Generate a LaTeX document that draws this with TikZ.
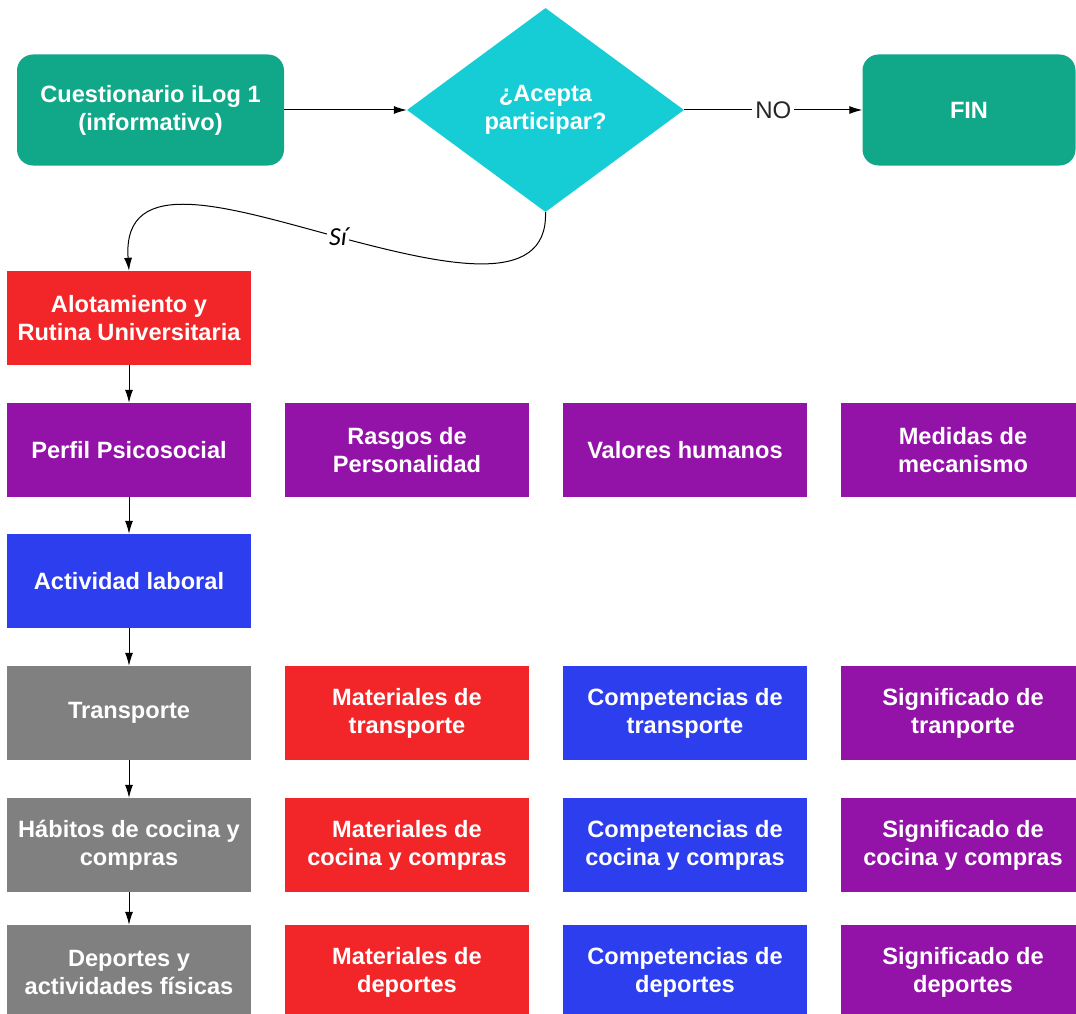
\documentclass[tikz,border=0pt]{standalone}
\usepackage{fontspec}
\setmainfont{Liberation Sans}
\newfontfamily\sifont{Carlito}
\usetikzlibrary{shapes.geometric,arrows.meta}

\definecolor{verde}{RGB}{16,168,137}
\definecolor{cian}{RGB}{22,205,214}
\definecolor{rojo}{RGB}{242,38,40}
\definecolor{morado}{RGB}{147,18,168}
\definecolor{azul}{RGB}{45,62,239}
\definecolor{gris}{RGB}{128,128,128}

\begin{document}
\begin{tikzpicture}[x=1pt,y=-1pt,
    caja/.style={rectangle,minimum width=244pt,minimum height=94pt,inner sep=0pt,
      text=white,align=center,font=\fontsize{23.6}{28}\selectfont\bfseries},
    flecha/.style={draw,line width=1pt,-{Latex[length=13pt,width=8pt]}}]

        \useasboundingbox (0,0) rectangle (1076,1014);

        \begin{scope}[every node/.style={caja}]
          % inicio
          \node[fill=verde,rounded corners=16pt,minimum width=267pt,minimum height=111pt] (1) at (150.5,110) {Cuestionario iLog 1\\(informativo)};
          \node[fill=cian,diamond,minimum width=277pt,minimum height=204pt] (2) at (545.5,110) {¿Acepta\\participar?};
          \node[fill=verde,rounded corners=16pt,minimum width=213pt,minimum height=111pt] (3) at (969,110) {FIN};
          % columna 1
          \node[fill=rojo]   (4) at (129,318) {Alotamiento y\\Rutina Universitaria};
          \node[fill=morado] (5) at (129,450) {Perfil Psicosocial};
          \node[fill=azul]   (6) at (129,581) {Actividad laboral};
          \node[fill=gris]   (7) at (129,713) {Transporte};
          \node[fill=gris]   (8) at (129,845) {Hábitos de cocina y\\compras};
          \node[fill=gris]   (9) at (129,972) {Deportes y\\actividades físicas};
          % resto
          \node[fill=morado] (10) at (407,450) {Rasgos de\\Personalidad};
          \node[fill=morado] (11) at (685,450) {Valores humanos};
          \node[fill=morado] (12) at (963,450) {Medidas de\\mecanismo};
          \node[fill=rojo]   (13) at (407,713) {Materiales de\\transporte};
          \node[fill=azul]   (14) at (685,713) {Competencias de\\transporte};
          \node[fill=morado] (15) at (963,713) {Significado de\\tranporte};
          \node[fill=rojo]   (16) at (407,845) {Materiales de\\cocina y compras};
          \node[fill=azul]   (17) at (685,845) {Competencias de\\cocina y compras};
          \node[fill=morado] (18) at (963,845) {Significado de\\cocina y compras};
          \node[fill=rojo]   (19) at (407,972) {Materiales de\\deportes};
          \node[fill=azul]   (20) at (685,972) {Competencias de\\deportes};
          \node[fill=morado] (21) at (963,972) {Significado de\\deportes};
        \end{scope}

        \begin{scope}[every edge/.style={flecha}]
          \path (1) edge (2);
          \path (2) edge node[fill=white,inner sep=3pt,text=black!85,font=\fontsize{24}{28}\selectfont] {NO} (3);
          \path (4) edge (5);
          \path (5) edge (6);
          \path (6) edge (7);
          \path (7) edge (8);
          \path (8) edge (9);
        \end{scope}

        \draw[flecha] (2.south) .. controls (548,290) and (440,264) .. (338,237)
          node[fill=white,inner sep=2pt,font=\sifont\itshape\fontsize{26}{30}\selectfont] {Sí}
          .. controls (230,208) and (122,172) .. (4.north);

      \end{tikzpicture}
\end{document}
